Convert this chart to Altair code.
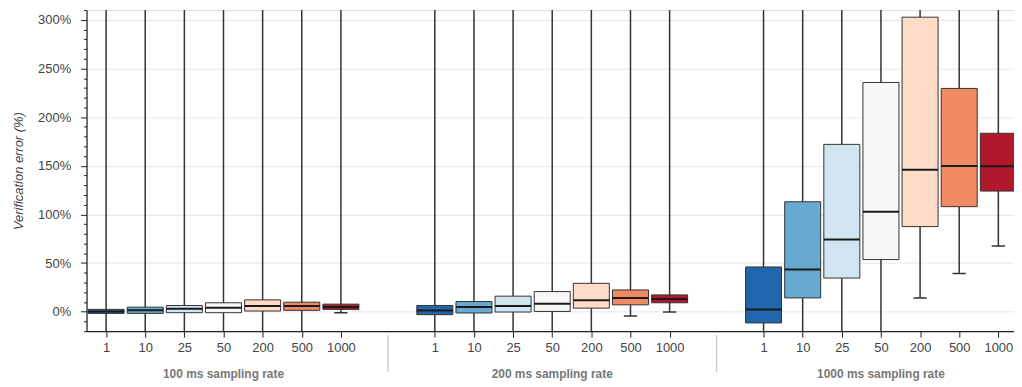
import json
import altair as alt
import pandas as pd

# ---------------- data ----------------
groups = ["100 ms sampling rate", "200 ms sampling rate", "1000 ms sampling rate"]
rates = ["1", "10", "25", "50", "200", "500", "1000"]
colors = ["#2166ac", "#67a9cf", "#d1e5f0", "#f7f7f7", "#fddbc7", "#ef8a62", "#b2182b"]

# 100 ms sampling rate
q1_100 = [-1.7, -1.7, -1.0, -1.0, 0.7, 1.4, 2.4]
med_100 = [0.3, 1.4, 3.0, 4.0, 5.8, 5.8, 4.8]
q3_100 = [2.4, 4.7, 6.4, 9.2, 12.2, 9.8, 7.8]
low_100 = [-45.0, -40.0, -42.0, -44.0, -38.0, -30.0, -1.0]
up_100 = [330.0, 340.0, 345.0, 350.0, 360.0, 355.0, 340.0]

# 200 ms sampling rate
q1_200 = [-3.0, -1.3, -0.3, 0.3, 3.7, 7.1, 9.2]
med_200 = [1.3, 4.8, 5.8, 8.1, 11.9, 14.2, 13.2]
q3_200 = [6.4, 10.5, 16.0, 20.7, 29.2, 22.4, 17.3]
low_200 = [-48.0, -45.0, -44.0, -46.0, -40.0, -4.4, -0.3]
up_200 = [340.0, 345.0, 350.0, 355.0, 365.0, 360.0, 350.0]

# 1000 ms sampling rate
q1_1000 = [-11.5, 14.2, 34.6, 53.6, 87.5, 108.0, 124.0]
med_1000 = [2.3, 43.4, 74.2, 102.7, 145.8, 149.8, 149.5]
q3_1000 = [46.0, 113.0, 172.0, 235.6, 302.7, 229.5, 183.4]
low_1000 = [-60.0, -55.0, -50.0, -45.0, 14.2, 39.3, 67.5]
up_1000 = [380.0, 400.0, 420.0, 450.0, 480.0, 420.0, 380.0]

q1s = [q1_100, q1_200, q1_1000]
meds = [med_100, med_200, med_1000]
q3s = [q3_100, q3_200, q3_1000]
lows = [low_100, low_200, low_1000]
ups = [up_100, up_200, up_1000]

y_ticks = list(range(-20, 311, 10))

# ---------------- layout helpers ----------------
GROUP_PAD = 1.4
STEP = len(rates) + GROUP_PAD
X_MAX = len(groups) * len(rates) + (len(groups) - 1) * GROUP_PAD - 0.1
W, H = 933, 323

rows = []
for g, gname in enumerate(groups):
    for i, r in enumerate(rates):
        rows.append(dict(
            group=gname, rate=r, pos=g * STEP + i + 0.5,
            q1=q1s[g][i], median=meds[g][i], q3=q3s[g][i],
            lower=lows[g][i], upper=ups[g][i],
        ))
df = pd.DataFrame(rows)
positions = df["pos"].tolist()

grp_df = pd.DataFrame({
    "group": groups,
    "center": [g * STEP + len(rates) / 2 for g in range(len(groups))],
})
sep_df = pd.DataFrame({"sep": [g * STEP - GROUP_PAD / 2 for g in range(1, len(groups))]})

FONT = "Liberation Sans"
label_expr = (
    json.dumps(rates).replace('"', "'")
    + "[round((round(datum.value*10) - 5) % "
    + str(int(round(STEP * 10)))
    + " / 10)]"
)

x_scale = alt.Scale(domain=[0, X_MAX], nice=False, zero=False)
y_scale = alt.Scale(domain=[-20, 310], nice=False, zero=False)

x_axis = alt.Axis(
    values=positions, labelExpr=label_expr, title=None, grid=False,
    tickSize=6, tickColor="#222", domainColor="#222", domainWidth=1.2,
    labelColor="#444", labelFontSize=13, labelFont=FONT, labelPadding=4,
)
major = "datum.value % 50 == 0"
y_axis = alt.Axis(
    values=y_ticks,
    labelExpr="datum.value % 50 == 0 ? datum.value + '%' : ''",
    title="Verification error (%)",
    titleFontStyle="italic", titleFontWeight="normal", titleColor="#444",
    titleFontSize=13, titleFont=FONT, titlePadding=12,
    labelColor="#444", labelFontSize=13, labelFont=FONT, labelPadding=10,
    tickColor="#222", domainColor="#222", domainWidth=1.2,
    tickSize=alt.condition(major, alt.value(6), alt.value(3)),
    gridColor="#e6e6e6",
    gridOpacity=alt.condition(major, alt.value(1), alt.value(0)),
)


def X(field):
    return alt.X(field, type="quantitative", scale=x_scale, axis=x_axis, title=None)


def Y(field):
    return alt.Y(field, type="quantitative", scale=y_scale, axis=y_axis)


base = alt.Chart(df).transform_calculate(
    x0="datum.pos - 0.46", x1="datum.pos + 0.46",
    c0="datum.pos - 0.17", c1="datum.pos + 0.17",
)

whiskers = base.mark_rule(color="#333", strokeWidth=1.5, clip=True).encode(
    x=X("pos"), y=Y("lower"), y2="upper:Q"
)
caps_low = base.mark_rule(color="#333", strokeWidth=1.5, clip=True).encode(
    x=X("c0"), x2="c1:Q", y=Y("lower")
)
caps_up = base.mark_rule(color="#333", strokeWidth=1.5, clip=True).encode(
    x=X("c0"), x2="c1:Q", y=Y("upper")
)
boxes = base.mark_rect(stroke="#333", strokeWidth=1, clip=True).encode(
    x=X("x0"), x2="x1:Q", y=Y("q1"), y2="q3:Q",
    color=alt.Color("rate:N", scale=alt.Scale(domain=rates, range=colors), legend=None),
)
medians = base.mark_rule(color="#1a1a1a", strokeWidth=2, clip=True).encode(
    x=X("x0"), x2="x1:Q", y=Y("median")
)

group_labels = alt.Chart(grp_df).mark_text(
    font=FONT, fontSize=12, fontWeight="bold", color="#777", baseline="middle"
).encode(x=X("center"), y=alt.value(H + 43), text="group:N")

separators = alt.Chart(sep_df).mark_rule(color="#cccccc", strokeWidth=1.5).encode(
    x=X("sep"), y=alt.value(H + 4), y2=alt.value(H + 41)
)

chart = alt.layer(
    whiskers, caps_low, caps_up, boxes, medians, group_labels, separators
).properties(
    width=W, height=H, padding={"left": 4, "top": 0, "right": 0, "bottom": 0}
).configure_view(stroke=None).configure(background="white")

chart.save("out.html", embed_options={"renderer": "svg", "actions": False})
